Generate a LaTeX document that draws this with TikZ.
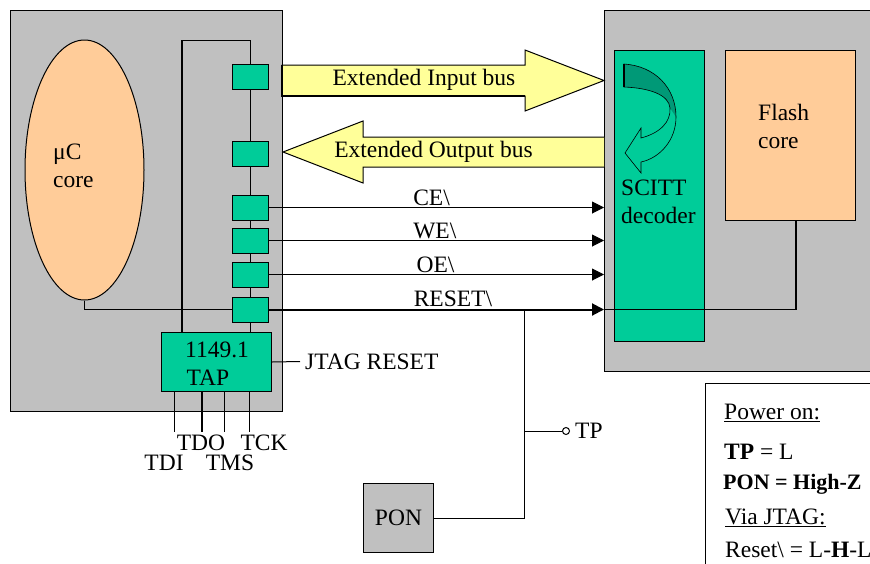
\documentclass[tikz,border=0pt]{standalone}
\usepackage{fontspec}
\setmainfont{Liberation Serif}
\usetikzlibrary{arrows.meta,shapes.geometric}
\definecolor{boxgray}{HTML}{C0C0C0}
\definecolor{chipgreen}{HTML}{00CC99}
\definecolor{darkgreen}{HTML}{009977}
\definecolor{peach}{HTML}{FFCC99}
\definecolor{busyellow}{HTML}{FFFF99}
\begin{document}
\begin{tikzpicture}[x=1pt,y=-1pt,
  rect/.style={draw, line width=1pt, inner sep=0, anchor=north west},
  grayrect/.style={rect, fill=boxgray},
  greenrect/.style={rect, fill=chipgreen},
  pinbox/.style={draw, line width=1pt, fill=chipgreen, inner sep=0, minimum width=36pt, minimum height=25pt},
  lbl/.style={font=\fontsize{23.5}{28}\selectfont, inner sep=0},
  wire/.style={line width=1pt},
  thickwire/.style={line width=2pt},
  sig/.style={line width=1pt, -{Triangle[length=12pt,width=12pt]}},
]
\fill[white] (0,0) rectangle (870,563);
\useasboundingbox (0,0) rectangle (870,563);

% ---------- left chip ----------
\node[grayrect, minimum width=272pt, minimum height=401pt] (L) at (10,10) {};
\node[ellipse, draw, line width=1pt, fill=peach, minimum width=119pt, minimum height=260pt, inner sep=0] (core) at (84.5,170) {};
\node[lbl, anchor=west, align=left] (coretxt) at (53,166) {μC\\core};

\coordinate (tl) at (182,40);
\coordinate (jrend) at (300,361.5);
\coordinate (t1) at (174,432);
\coordinate (t2) at (202,432);
\coordinate (t3) at (224,432);
\coordinate (t4) at (249,432);

\node[pinbox] (p1) at (250,76.5) {};
\node[pinbox] (p2) at (250,153.5) {};
\node[pinbox] (p3) at (250,207.5) {};
\node[pinbox] (p4) at (250,240.5) {};
\node[pinbox] (p5) at (250,274.5) {};
\node[pinbox] (p6) at (250,309.5) {};
\node[greenrect, minimum width=110pt, minimum height=59pt] (tap) at (161,332) {};
\node[lbl] (taptxt1) at (217,350) {1149.1};
\node[lbl] (taptxt2) at (208,378) {TAP};

\draw[wire] (p1.north) |- (tl);
\draw[thickwire] (tl) -- (tl |- tap.north);
\draw[wire] (p1.south) -- (p2.north);
\draw[wire] (p2.south) -- (p3.north);
\draw[wire] (p3.south) -- (p4.north);
\draw[wire] (p4.south) -- (p5.north);
\draw[wire] (p5.south) -- (p6.north);
\draw[wire] (p6.south) -- (p6.south |- tap.north);
\draw[wire] (core.south) |- (p6.west);

\draw[wire] (tap.east) -- (jrend);
\node[lbl, anchor=west] (jr) at ([xshift=5pt]jrend) {JTAG RESET};

\draw[wire] (t1 |- tap.south) -- (t1);
\draw[thickwire] (t2 |- tap.south) -- (t2);
\draw[wire] (t3 |- tap.south) -- (t3);
\draw[wire] (t4 |- tap.south) -- (t4);
\node[lbl] (tdo) at (201,443) {TDO};
\node[lbl] (tck) at (264,443) {TCK};
\node[lbl] (tdi) at (164,463) {TDI};
\node[lbl] (tms) at (230,463) {TMS};

% ---------- right chip ----------
\node[grayrect, minimum width=272pt, minimum height=361pt] (R) at (604,10) {};
\node[greenrect, minimum width=90pt, minimum height=291pt] (dec) at (614,50) {};
\node[rect, fill=peach, minimum width=130pt, minimum height=170pt] (flash) at (725,50) {};
\node[lbl, anchor=west, align=left] (flashtxt) at (758,126) {Flash\\core};
\node[lbl, anchor=west, align=left] (dectxt) at (621,201.5) {SCITT\\decoder};

% curved arrow in decoder
\fill[darkgreen] (624,64) .. controls (655,66) and (676,88) .. (676,117) -- (670,108) .. controls (669,95) and (650,88) .. (624,87) -- cycle;
\draw[line width=0.6pt] (624,64) .. controls (655,66) and (676,88) .. (676,117)
  .. controls (676,140) and (660,158) .. (641,162) -- (641,173) -- (625,153) -- (641,128) -- (641,138)
  .. controls (660,133) and (671,122) .. (670,108) .. controls (669,95) and (650,88) .. (624,87) -- cycle;
\draw[line width=1.5pt] (624,64) -- (624,87);

% ---------- buses ----------
\draw[wire, fill=busyellow] (282,65) -- (525,65) -- (525,50) -- (604,80.5) -- (525,111) -- (525,96) -- (282,96) -- cycle;
\draw[line width=2pt] (282,65) -- (282,96) -- (525,96);
\node[lbl] (inbus) at (424,80) {Extended Input bus};

\draw[wire, fill=busyellow] (604,137) -- (363,137) -- (363,121) -- (283,152) -- (363,183) -- (363,167) -- (604,167);
\node[lbl] (outbus) at (433.5,152) {Extended Output bus};

% ---------- control signals ----------
\draw[sig] (p3.east) -- (p3.east -| R.west) node[lbl, pos=0.43, anchor=base west, yshift=2pt] (ce) {CE\textbackslash};
\draw[sig] (p4.east) -- (p4.east -| R.west) node[lbl, pos=0.43, anchor=base west, yshift=2pt] (we) {WE\textbackslash};
\draw[sig] (p5.east) -- (p5.east -| R.west) node[lbl, pos=0.44, anchor=base west, yshift=2pt] (oe) {OE\textbackslash};
\draw[sig, line width=2pt] (p6.east) -- (p6.east -| R.west) node[lbl, pos=0.43, anchor=base west, yshift=3pt] (rst) {RESET\textbackslash};

\coordinate (fc) at (796,309.5);
\draw[wire] (p6.east -| R.west) -- (fc);
\draw[thickwire] (fc) -- (fc |- flash.south);

% ---------- PON / TP ----------
\coordinate (br) at (524,309.5);
\node[grayrect, minimum width=70pt, minimum height=69pt, font=\fontsize{23.5}{28}\selectfont] (pon) at (363,483) {PON};
\node[draw, circle, line width=1pt, inner sep=0, minimum size=7pt, fill=white] (tp) at (566,431) {};
\draw[wire] (br) |- (pon.east);
\draw[wire] (br |- tp.west) -- (tp.west);
\node[lbl, anchor=west] (tptxt) at (575,431) {TP};

% ---------- legend ----------
\node[rect, fill=white, minimum width=175pt, minimum height=190pt] (leg) at (705,383) {};
\node[lbl, anchor=west] (l1) at (724,413) {\underline{Power on:}};
\node[lbl, anchor=west] (l2) at (724,452) {\textbf{TP} = L};
\node[lbl, anchor=west, font=\fontsize{22}{28}\selectfont] (l3) at (723,484) {\textbf{PON = High-Z}};
\node[lbl, anchor=west] (l4) at (725,518) {\underline{Via JTAG:}};
\node[lbl, anchor=west] (l5) at (725,550) {Reset\textbackslash{} = L-\textbf{H}-L};
\end{tikzpicture}
\end{document}
